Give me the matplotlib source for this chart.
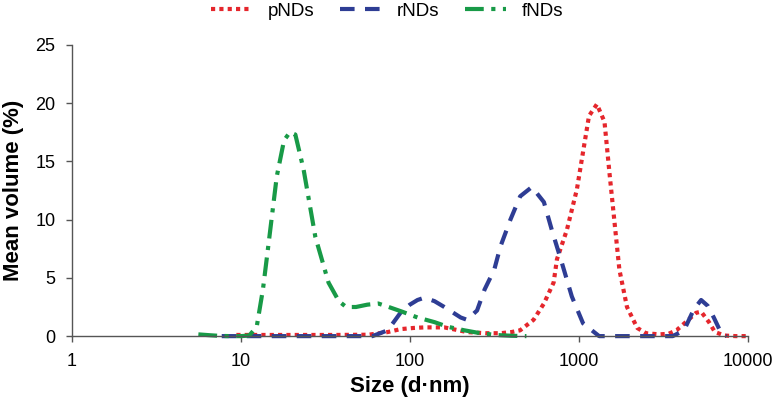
import matplotlib.pyplot as plt
import matplotlib

matplotlib.rcParams['font.family'] = ['Liberation Sans', 'DejaVu Sans']

# particle size (d.nm) and mean volume (%) for each sample
p_size = [9.4, 12, 20, 35, 57, 74, 88, 105, 122, 160, 218, 280, 344, 400, 450, 540,
          622, 710, 743, 850, 975, 1060, 1150, 1280, 1420, 1520, 1630, 1740, 1930,
          2220, 2500, 3000, 3400, 3790, 4300, 4950, 5300, 5900, 6400, 7300, 8500, 9800]
p_vol = [0.1, 0.1, 0.1, 0.1, 0.12, 0.35, 0.6, 0.7, 0.75, 0.75, 0.35, 0.25, 0.25, 0.35,
         0.5, 1.4, 2.8, 4.6, 6.6, 9.1, 12.6, 15.8, 18.9, 19.9, 18.4, 14.0, 9.7, 5.7,
         2.5, 0.7, 0.25, 0.15, 0.2, 0.5, 1.2, 2.0, 2.1, 1.2, 0.35, 0.05, 0.0, 0.0]

r_size = [7.7, 10, 20, 40, 60, 74, 88, 100, 111, 122, 140, 160, 200, 218, 250, 277,
          316, 344, 394, 450, 528, 622, 693, 794, 910, 1060, 1320, 2000, 3000, 3600,
          4200, 4800, 5300, 5800, 6300, 7000, 7500]
r_vol = [0.0, 0.0, 0.0, 0.0, 0.0, 0.5, 2.0, 2.7, 3.1, 3.3, 3.0, 2.5, 1.6, 1.4, 2.2, 4.0,
         5.7, 7.7, 10.0, 12.0, 12.8, 11.5, 9.1, 6.3, 3.4, 1.1, 0.0, 0.0, 0.0, 0.0,
         0.5, 2.3, 3.1, 2.6, 1.6, 0.2, 0.0]

f_size = [5.6, 6.5, 7.5, 8.7, 10, 11.2, 12.4, 13.5, 14.6, 16.3, 18, 19.5, 21, 23.5,
          27.6, 33, 38, 42, 48, 56, 65, 75, 90, 111, 140, 168, 210, 250, 320, 400, 490]
f_vol = [0.15, 0.08, 0.02, 0.0, 0.0, 0.05, 0.8, 4.0, 8.0, 13.7, 16.8, 17.5, 17.3, 14.3,
         8.5, 4.6, 3.0, 2.5, 2.5, 2.7, 2.8, 2.5, 2.1, 1.6, 1.2, 0.8, 0.5, 0.3, 0.1, 0.03, 0.0]

x_ticks = [1, 10, 100, 1000, 10000]
y_ticks = [0, 5, 10, 15, 20, 25]

fig, ax = plt.subplots(figsize=(7.74, 4.04), dpi=100)
fig.subplots_adjust(left=0.093, right=0.966, bottom=0.168, top=0.889)

ax.plot(p_size, p_vol, color='#e5262c', linewidth=3, dashes=(1.0, 1.0),
        label='pNDs', clip_on=False)
ax.plot(r_size, r_vol, color='#2e3d94', linewidth=3, dashes=(3.5, 2.5),
        label='rNDs', clip_on=False)
ax.plot(f_size, f_vol, color='#189a47', linewidth=3, dashes=(4.5, 1.8, 1.0, 1.8),
        label='fNDs', clip_on=False)

ax.set_xscale('log')
ax.set_xlim(1, 10000)
ax.set_ylim(0, 25)
ax.set_xticks(x_ticks)
ax.set_xticklabels([str(t) for t in x_ticks])
ax.set_yticks(y_ticks)
ax.minorticks_off()

for side in ['top', 'right']:
    ax.spines[side].set_visible(False)
for side in ['left', 'bottom']:
    ax.spines[side].set_color('#555555')
    ax.spines[side].set_linewidth(1)
ax.tick_params(colors='#555555', labelcolor='black', labelsize=13, length=4, width=1)
ax.tick_params(axis='x', pad=8.5)
ax.tick_params(axis='y', pad=8)

ax.set_xlabel('Size (d\u00b7nm)', fontsize=16, fontweight='bold', labelpad=4)
ax.set_ylabel('Mean volume (%)', fontsize=16, fontweight='bold', labelpad=8)

fig.legend(loc='center', bbox_to_anchor=(0.5, 1 - 11 / 404), ncol=3, frameon=False,
           fontsize=13.5, handlelength=2.2, columnspacing=1.4, handletextpad=0.8)

plt.savefig('out.png', dpi=100)
